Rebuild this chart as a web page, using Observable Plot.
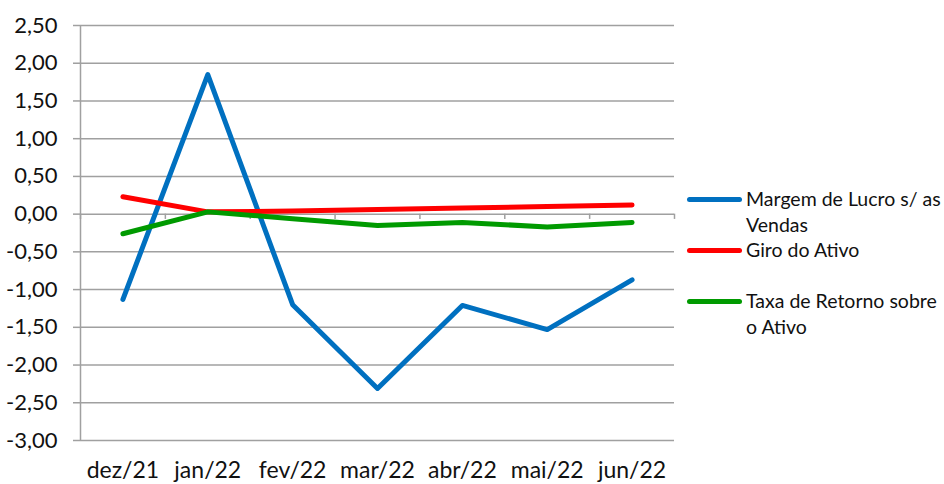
<!DOCTYPE html>
<html><head><meta charset="utf-8">
<script src="https://cdn.jsdelivr.net/npm/d3@7"></script>
<script src="https://cdn.jsdelivr.net/npm/@observablehq/plot@0.6"></script>
<style>
body{margin:0;background:#fff;font-family:Lato,"Open Sans",sans-serif;}
#wrap{position:relative;width:944px;height:484px;}
#legend{position:absolute;left:687px;top:186px;font-size:19.5px;color:#111;line-height:25.5px;white-space:nowrap;}
.item{display:flex;align-items:flex-start;}
.sw{width:55px;height:5px;border-radius:3px;margin-top:11px;margin-right:4px;flex:none;}
</style></head>
<body><div id="wrap"><div id="legend"></div></div>
<script>
const categories = ["dez/21","jan/22","fev/22","mar/22","abr/22","mai/22","jun/22"];
const margemLucro = [-1.13, 1.85, -1.20, -2.31, -1.21, -1.53, -0.87];
const giroAtivo = [0.23, 0.03, 0.04, 0.06, 0.08, 0.10, 0.12];
const taxaRetorno = [-0.26, 0.03, -0.06, -0.15, -0.11, -0.17, -0.11];
const seriesNames = ["Margem de Lucro s/ as Vendas","Giro do Ativo","Taxa de Retorno sobre o Ativo"];
const seriesValues = [margemLucro, giroAtivo, taxaRetorno];
const colors = ["#0070c0","#ff0000","#009a00"];
const yTicks = d3.range(-3, 2.51, 0.5);

const data = [];
seriesNames.forEach((s, k) => seriesValues[k].forEach((v, i) => data.push({series: s, i: i + 0.5, value: v})));
const fmt = v => d3.format(".2f")(v).replace(".", ",").replace("\u2212", "-");
const grid = "#a0a0a0";

const chart = Plot.plot({
  width: 944, height: 484,
  marginLeft: 80, marginRight: 270, marginTop: 25, marginBottom: 44,
  style: {fontFamily: "Lato, 'Open Sans', sans-serif", color: "#111", background: "#fff"},
  x: {domain: [0, categories.length], axis: null},
  y: {domain: [-3, 2.5], axis: null},
  color: {domain: seriesNames, range: colors},
  marks: [
    Plot.ruleY(yTicks, {stroke: grid, strokeWidth: 1.5}),
    Plot.ruleX([0], {stroke: grid, strokeWidth: 1.5}),
    Plot.ruleX(d3.range(categories.length + 1), {y1: 0, y2: -0.07, stroke: grid, strokeWidth: 1.5}),
    Plot.axisY({ticks: yTicks, tickFormat: fmt, tickSize: 7, tickPadding: 16, fontSize: 22, stroke: grid, strokeWidth: 1.5, label: null}),
    Plot.axisX({ticks: categories.map((c, i) => i + 0.5), tickFormat: v => categories[Math.floor(v)], tickSize: 0, tickPadding: 21, fontSize: 23, label: null}),
    Plot.line(data, {x: "i", y: "value", z: "series", stroke: "series", strokeWidth: 5, strokeLinejoin: "round", strokeLinecap: "round"})
  ]
});
document.getElementById("wrap").prepend(chart);

const leg = document.getElementById("legend");
const legendLines = [["Margem de Lucro s/ as","Vendas"],["Giro do Ativo"],["Taxa de Retorno sobre","o Ativo"]];
legendLines.forEach((lines, k) => {
  const it = document.createElement("div");
  it.className = "item";
  if (k === 2) it.style.marginTop = "25.5px";
  const sw = document.createElement("div");
  sw.className = "sw"; sw.style.background = colors[k];
  const tx = document.createElement("div");
  tx.innerHTML = lines.join("<br>");
  it.append(sw, tx);
  leg.append(it);
});
</script></body></html>
